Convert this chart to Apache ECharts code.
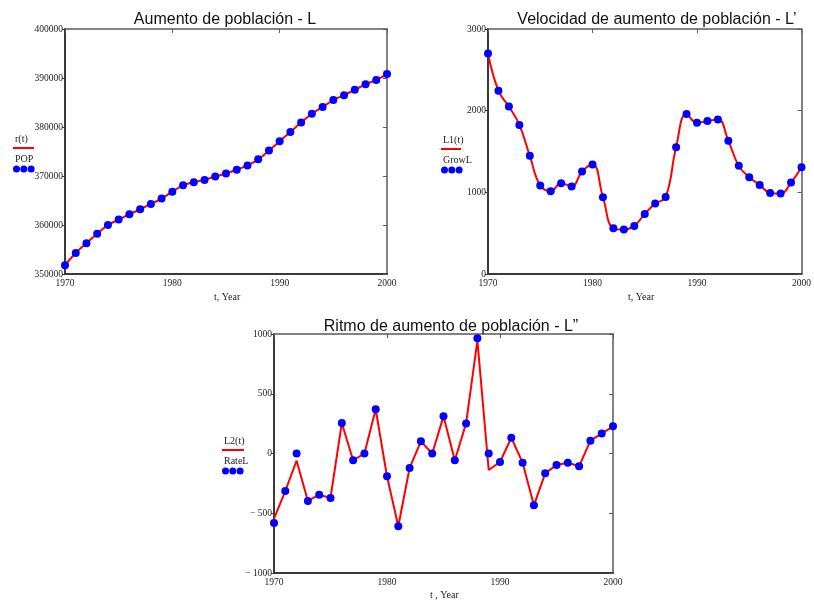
<!DOCTYPE html>
<html>
<head>
<meta charset="utf-8">
<script src="https://cdn.jsdelivr.net/npm/echarts@6/dist/echarts.min.js"></script>
<style>
  html, body { margin: 0; padding: 0; background: #fff; }
  #chart { width: 814px; height: 603px; }
</style>
</head>
<body>
<div id="chart"></div>
<script>
// Years 1970..2000
const years = [1970,1971,1972,1973,1974,1975,1976,1977,1978,1979,1980,1981,1982,1983,1984,1985,
               1986,1987,1988,1989,1990,1991,1992,1993,1994,1995,1996,1997,1998,1999,2000];

// Population (POP) and its spline r(t)
const pop = [351800,354300,356300,358200,360000,361100,362200,363200,364300,365400,366800,368100,
             368750,369200,369900,370500,371300,372150,373400,375200,377100,379000,380900,382700,
             384100,385500,386500,387600,388700,389600,390800];

// Growth per year (GrowL), first derivative L1(t)
const growL = [2700,2245,2050,1825,1447,1083,1014,1112,1071,1255,1341,940,560,544,589,736,
               862,944,1553,1958,1852,1872,1892,1631,1324,1185,1091,993,985,1120,1308];

// Rate of growth (RateL) and the piecewise-linear second derivative L2(t)
const rateL = [-582,-314,0,-397,-345,-372,255,-57,0,370,-191,-609,-121,102,0,311,
               -57,252,964,0,-71,132,-77,-434,-166,-96,-77,-107,107,167,227];
const l2 = [-545,-314,-60,-397,-345,-372,255,-57,0,370,-191,-609,-121,102,0,311,
            -57,252,945,-138,-71,132,-77,-434,-166,-96,-77,-107,107,167,227];

// Tick values
const xTicks = { min: 1970, max: 2000, interval: 10 };
const y1Ticks = { min: 350000, max: 400000, interval: 10000 };
const y2Ticks = { min: 0, max: 3000, interval: 1000 };
const y3Ticks = { min: -1000, max: 1000, interval: 500 };

const pairs = (vals) => years.map((y, i) => [y, vals[i]]);

const serif = 'Liberation Serif';
const sans = 'Liberation Sans';
const frameDark = '#3a3a3a';
const frameLight = '#5a5a5a';

const grids = [
  { left: 65, top: 29, width: 322, height: 245 },
  { left: 488, top: 29, width: 315, height: 245 },
  { left: 274, top: 334, width: 339, height: 239 }
];

function minusFmt(v) {
  return v < 0 ? '\u2212 ' + Math.abs(v) : String(v);
}

const xAxes = [], yAxes = [];
const yRanges = [y1Ticks, y2Ticks, y3Ticks];
grids.forEach((g, i) => {
  // bottom axis with labels
  xAxes.push({
    type: 'value', gridIndex: i, position: 'bottom',
    min: xTicks.min, max: xTicks.max, interval: xTicks.interval,
    axisLine: { onZero: false, lineStyle: { color: frameDark, width: 2 } },
    axisTick: { show: false },
    splitLine: { show: false },
    axisLabel: { fontFamily: serif, fontSize: 9.5, color: '#222', margin: 4, formatter: (v) => String(v) }
  });
  // top frame with inward ticks
  xAxes.push({
    type: 'value', gridIndex: i, position: 'top',
    min: xTicks.min, max: xTicks.max, interval: xTicks.interval,
    axisLine: { onZero: false, lineStyle: { color: frameLight, width: 1.5 } },
    axisTick: { show: true, inside: true, length: 4, lineStyle: { color: frameLight } },
    splitLine: { show: false },
    axisLabel: { show: false }
  });
  const r = yRanges[i];
  // left axis with labels
  yAxes.push({
    type: 'value', gridIndex: i, position: 'left',
    min: r.min, max: r.max, interval: r.interval,
    axisLine: { show: true, onZero: false, lineStyle: { color: frameDark, width: 2 } },
    axisTick: { show: true, length: 3, lineStyle: { color: frameDark } },
    splitLine: { show: false },
    axisLabel: { fontFamily: serif, fontSize: 9.5, color: '#222', margin: 2, formatter: minusFmt }
  });
  // right frame with inward ticks
  yAxes.push({
    type: 'value', gridIndex: i, position: 'right',
    min: r.min, max: r.max, interval: r.interval,
    axisLine: { show: true, onZero: false, lineStyle: { color: frameLight, width: 1.5 } },
    axisTick: { show: true, inside: true, length: 4, lineStyle: { color: frameLight } },
    splitLine: { show: false },
    axisLabel: { show: false }
  });
});

function lineSeries(i, vals, smooth) {
  return {
    type: 'line', xAxisIndex: i * 2, yAxisIndex: i * 2,
    data: pairs(vals), smooth: smooth, showSymbol: false, symbol: 'none',
    lineStyle: { color: '#ff0000', width: 2 }, z: 2, animation: false
  };
}
function dotSeries(i, vals) {
  return {
    type: 'scatter', xAxisIndex: i * 2, yAxisIndex: i * 2,
    data: pairs(vals), symbol: 'circle', symbolSize: 8,
    itemStyle: { color: '#0000ff', opacity: 1 }, z: 3, animation: false
  };
}

// Legend blocks: label, red line, label, three dots
function legendBlock(x, y, lineName, dotName, lineW) {
  const els = [];
  els.push({ type: 'text', left: x, top: y, style: { text: lineName, font: '10px ' + serif, fill: '#222' } });
  els.push({ type: 'line', shape: { x1: x - 2, y1: y + 14, x2: x - 2 + lineW, y2: y + 14 },
             style: { stroke: '#ff0000', lineWidth: 2 } });
  els.push({ type: 'text', left: x, top: y + 20, style: { text: dotName, font: '10px ' + serif, fill: '#222' } });
  for (let k = 0; k < 3; k++) {
    els.push({ type: 'circle', shape: { cx: x + 1.5 + k * 7.3, cy: y + 35, r: 3.5 },
               style: { fill: '#0000ff' } });
  }
  return els;
}

const titleStyle = { fontFamily: sans, fontSize: 16, fontWeight: 'normal', color: '#111' };

const option = {
  backgroundColor: '#fff',
  animation: false,
  title: [
    { text: 'Aumento de población - L', left: 220, top: 7, textAlign: 'center', textStyle: titleStyle },
    { text: 'Velocidad de aumento de población - L\u2019', left: 652, top: 7, textAlign: 'center', textStyle: titleStyle },
    { text: 'Ritmo de aumento de población - L\u201d', left: 446, top: 314, textAlign: 'center', textStyle: titleStyle }
  ],
  grid: grids,
  xAxis: xAxes,
  yAxis: yAxes,
  series: [
    lineSeries(0, pop, 0.4), dotSeries(0, pop),
    lineSeries(1, growL, 0.45), dotSeries(1, growL),
    lineSeries(2, l2, false), dotSeries(2, rateL)
  ],
  graphic: [
    ...legendBlock(15, 134, 'r(t)', 'POP', 21),
    ...legendBlock(443, 135, 'L1(t)', 'GrowL', 20),
    ...legendBlock(224, 436, 'L2(t)', 'RateL', 22),
    { type: 'text', left: 214, top: 292, style: { text: 't, Year', font: '10px ' + serif, fill: '#222' } },
    { type: 'text', left: 628, top: 292, style: { text: 't, Year', font: '10px ' + serif, fill: '#222' } },
    { type: 'text', left: 430, top: 590, style: { text: 't , Year', font: '10px ' + serif, fill: '#222' } }
  ]
};

const chart = echarts.init(document.getElementById('chart'), null, { renderer: 'canvas' });
chart.setOption(option);
</script>
</body>
</html>
